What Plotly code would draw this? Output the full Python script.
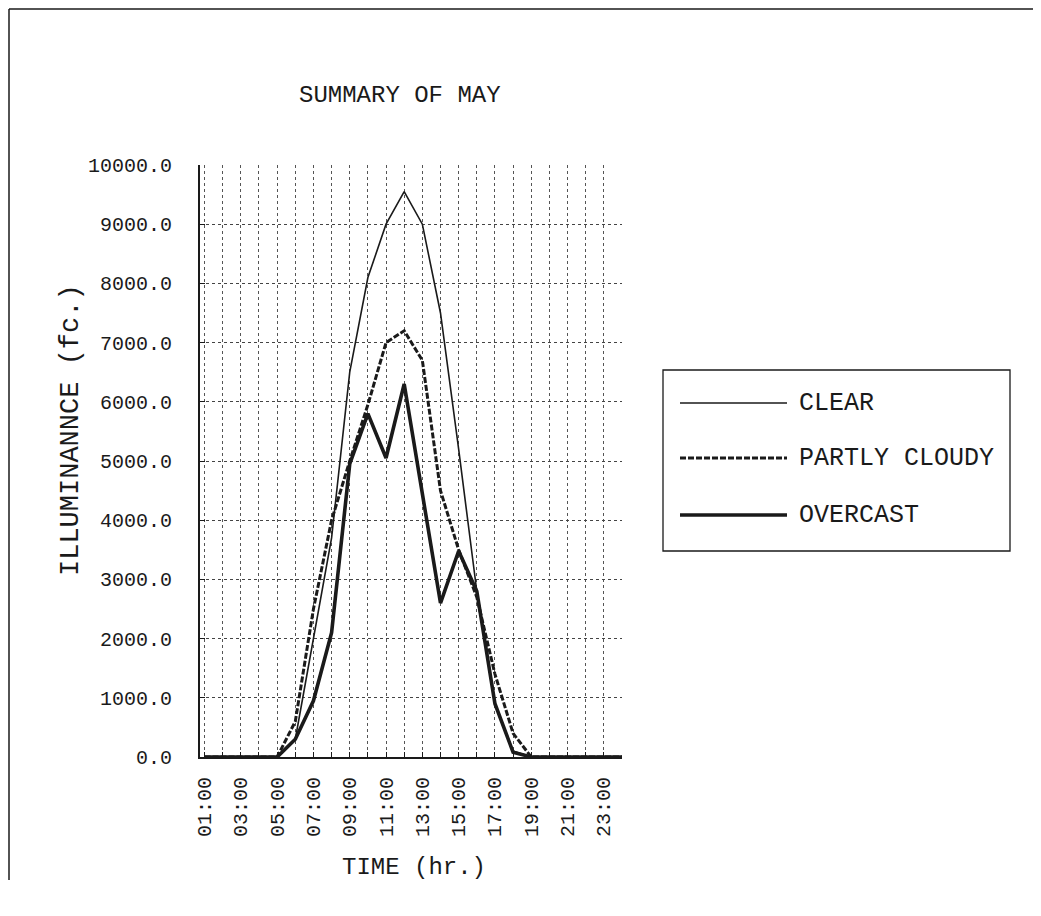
import plotly.graph_objects as go

# ---- data ----
hours = ["01:00", "02:00", "03:00", "04:00", "05:00", "06:00", "07:00", "08:00",
         "09:00", "10:00", "11:00", "12:00", "13:00", "14:00", "15:00", "16:00",
         "17:00", "18:00", "19:00", "20:00", "21:00", "22:00", "23:00", "24:00"]
clear = [0, 0, 0, 0, 0, 300, 2000, 3700, 6500, 8100, 9000, 9550,
         9000, 7500, 5200, 2800, 900, 100, 0, 0, 0, 0, 0, 0]
partly_cloudy = [0, 0, 0, 0, 0, 600, 2500, 4000, 5000, 5950, 7000, 7200,
                 6700, 4500, 3500, 2700, 1400, 400, 0, 0, 0, 0, 0, 0]
overcast = [0, 0, 0, 0, 0, 300, 950, 2100, 4950, 5800, 5050, 6300,
            4450, 2600, 3480, 2800, 900, 80, 0, 0, 0, 0, 0, 0]
series_names = ["CLEAR", "PARTLY CLOUDY", "OVERCAST"]
y_ticks = [0, 1000, 2000, 3000, 4000, 5000, 6000, 7000, 8000, 9000, 10000]

W, H = 1041, 916
OFF = 8  # page body margin in the browser
# plot area in screenshot pixels: x 200..622, y 165..757
SX0, SX1, SY0, SY1 = 200, 622, 165, 757
L, T = SX0 - OFF, SY0 - OFF
PW, PH = SX1 - SX0, SY1 - SY0
R, B = W - L - PW, H - T - PH
FONT = "Liberation Mono, Courier New, monospace"
INK = "#1a1a1a"


def px(x):
    return (x - SX0) / PW


def py(y):
    return (SY1 - y) / PH


xs = list(range(1, len(hours) + 1))
ticktext = [h if i % 2 == 0 else "" for i, h in enumerate(hours)]

fig = go.Figure()
fig.add_trace(go.Scatter(x=xs, y=clear, mode="lines", name=series_names[0],
                         line=dict(color=INK, width=1.6), showlegend=False))
fig.add_trace(go.Scatter(x=xs, y=partly_cloudy, mode="lines", name=series_names[1],
                         line=dict(color=INK, width=3, dash="6px,2px"), showlegend=False))
fig.add_trace(go.Scatter(x=xs, y=overcast, mode="lines", name=series_names[2],
                         line=dict(color=INK, width=3.6), showlegend=False))

fig.update_layout(
    width=W, height=H,
    margin=dict(l=L, r=R, t=T, b=B, autoexpand=False),
    paper_bgcolor="white", plot_bgcolor="white",
    font=dict(family=FONT, color=INK),
)
fig.update_xaxes(
    range=[0.75, 24.0], tickmode="array", tickvals=xs, ticktext=ticktext,
    tickangle=-90, tickfont=dict(size=20, family=FONT, color=INK),
    showgrid=True, gridcolor="#555", griddash="dot", gridwidth=1,
    showline=True, linecolor=INK, linewidth=2,
    ticks="inside", ticklen=5, tickcolor=INK, ticklabelstandoff=10,
    zeroline=False,
)
fig.update_yaxes(
    range=[0, 10000], tickmode="array", tickvals=y_ticks, tickformat=".1f",
    tickfont=dict(size=20, family=FONT, color=INK),
    showgrid=True, gridcolor="#444", griddash="dot", gridwidth=1.2,
    showline=True, linecolor=INK, linewidth=2,
    ticks="inside", ticklen=5, tickcolor=INK, ticklabelstandoff=22,
    zeroline=False,
)

ann = []
ann.append(dict(text="SUMMARY OF MAY", x=px(400), y=py(95), xref="paper", yref="paper",
                xanchor="center", yanchor="middle",
                showarrow=False, font=dict(size=24, family=FONT, color=INK)))
ann.append(dict(text="ILLUMINANNCE (fc.)", x=px(71), y=py(430), xref="paper", yref="paper",
                xanchor="center", yanchor="middle",
                showarrow=False, textangle=-90, font=dict(size=27, family=FONT, color=INK)))
ann.append(dict(text="TIME (hr.)", x=px(414), y=py(867), xref="paper", yref="paper",
                xanchor="center", yanchor="middle",
                showarrow=False, font=dict(size=24, family=FONT, color=INK)))

shapes = []
# page frame
shapes.append(dict(type="line", xref="paper", yref="paper", x0=px(9), y0=py(9), x1=px(1035), y1=py(9),
                   line=dict(color=INK, width=1.5)))
shapes.append(dict(type="line", xref="paper", yref="paper", x0=px(9), y0=py(9), x1=px(9), y1=py(880),
                   line=dict(color=INK, width=1.5)))
shapes.append(dict(type="line", xref="paper", yref="paper", x0=px(1035), y0=py(9), x1=px(1037), y1=py(916),
                   line=dict(color=INK, width=1.2)))
# legend box
shapes.append(dict(type="rect", xref="paper", yref="paper", x0=px(663), y0=py(551), x1=px(1010), y1=py(370),
                   line=dict(color=INK, width=1.3), fillcolor="rgba(0,0,0,0)"))
leg_y = [403, 458, 515]
leg_w = [1.6, 3, 3.6]
leg_dash = ["solid", "6px,2px", "solid"]
for name, yy, w, d in zip(series_names, leg_y, leg_w, leg_dash):
    shapes.append(dict(type="line", xref="paper", yref="paper", x0=px(680), y0=py(yy), x1=px(787), y1=py(yy),
                       line=dict(color=INK, width=w, dash=d)))
    ann.append(dict(text=name, x=px(797), y=py(yy), xref="paper", yref="paper",
                    xanchor="left", yanchor="middle",
                    showarrow=False, font=dict(size=25, family=FONT, color=INK)))

fig.update_layout(annotations=ann, shapes=shapes)
fig.write_html("out.html")
